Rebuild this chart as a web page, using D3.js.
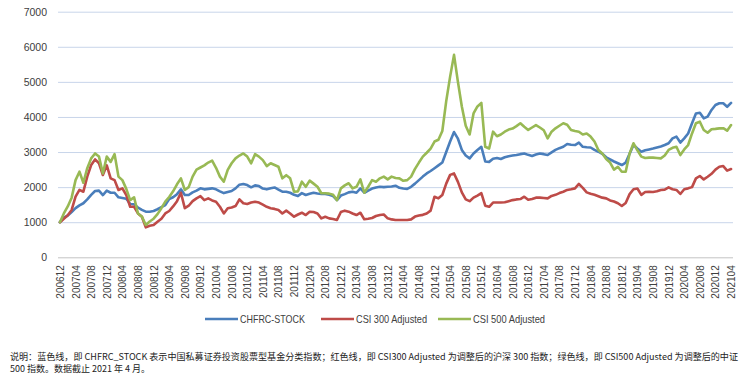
<!DOCTYPE html>
<html>
<head>
<meta charset="utf-8">
<script src="https://cdn.jsdelivr.net/npm/d3@7"></script>
<style>
  body { margin: 0; background: #fff; }
  svg { display: block; font-family: "Liberation Sans", Arial, sans-serif; }
</style>
</head>
<body>
<div id="chart"></div>
<script>
// monthly categories, 200612 .. 202104
const months = d3.timeMonth.range(new Date(2006, 11, 1), new Date(2021, 4, 1));
const fmtMonth = d3.timeFormat("%Y%m");

const seriesNames = ["CHFRC-STOCK", "CSI 300 Adjusted", "CSI 500 Adjusted"];
const yTicks = [0, 1000, 2000, 3000, 4000, 5000, 6000, 7000];

const chfrcStock = [
  1000, 1130, 1190, 1290, 1400, 1480, 1540, 1650, 1780, 1890,
  1900, 1775, 1900, 1840, 1840, 1710, 1690, 1670, 1520, 1510,
  1420, 1350, 1300, 1300, 1320, 1370, 1430, 1490, 1660, 1710,
  1800, 1937, 1775, 1775, 1850, 1900, 1965, 1937, 1950, 1965,
  1937, 1880, 1830, 1860, 1890, 1965, 2070, 2090, 2060, 1995,
  2050, 2030, 1960, 1937, 1970, 1990, 1930, 1870, 1870, 1840,
  1780, 1745, 1830, 1775, 1810, 1840, 1820, 1805, 1805, 1780,
  1745, 1630, 1760, 1800, 1850, 1870, 1840, 1965, 1840, 1900,
  1960, 1990, 2010, 2000, 2010, 2020, 2040, 1980, 1960, 1950,
  2010, 2100, 2200, 2300, 2390, 2460, 2540, 2620, 2700, 3000,
  3300, 3570, 3380, 3060, 2900, 2820, 2960, 3060, 3150, 2730,
  2720, 2810, 2830, 2800, 2850, 2880, 2900, 2915, 2940, 2960,
  2920, 2887, 2930, 2960, 2940, 2915, 2990, 3060, 3110, 3150,
  3230, 3210, 3200, 3270, 3150, 3135, 3130, 3060, 3010, 2950,
  2850, 2790, 2730, 2680, 2630, 2700, 2950, 3200, 3100, 3010,
  3050, 3075, 3100, 3130, 3160, 3200, 3250, 3390, 3440, 3270,
  3390, 3530, 3820, 4100, 4120, 3960, 4010, 4200, 4340, 4390,
  4390, 4290, 4400
];

const csi300Adj = [
  1000, 1100, 1200, 1350, 1730, 1920, 1870, 2300, 2630, 2790,
  2680, 2345, 2620, 2250, 2200, 1920, 1965, 1775, 1440, 1440,
  1250, 1157, 855, 900, 920, 1015, 1100, 1250, 1320, 1450,
  1600, 1840, 1400, 1470, 1600, 1680, 1745, 1630, 1680, 1620,
  1585, 1440, 1250, 1397, 1420, 1460, 1650, 1540, 1520, 1560,
  1585, 1560, 1500, 1440, 1400, 1380, 1350, 1250, 1330, 1250,
  1157, 1220, 1270, 1205, 1300, 1290, 1250, 1110, 1157, 1110,
  1090, 1063, 1290, 1330, 1300, 1250, 1205, 1270, 1083, 1100,
  1120, 1177, 1205, 1220, 1110, 1080, 1063, 1063, 1063, 1063,
  1080, 1160, 1190, 1210, 1250, 1330, 1727, 1680, 1775, 2100,
  2350, 2390, 2150, 1850, 1650, 1600, 1700, 1760, 1830, 1470,
  1440, 1560, 1560, 1560, 1570, 1600, 1630, 1650, 1660, 1727,
  1640, 1660, 1700, 1700, 1690, 1680, 1750, 1780, 1830, 1870,
  1920, 1940, 1965, 2090, 1980, 1850, 1810, 1780, 1740, 1700,
  1680, 1620, 1590, 1540, 1462, 1550, 1800, 1940, 1960, 1780,
  1860, 1870, 1860, 1880, 1920, 1930, 1995, 1940, 1920, 1805,
  1940, 1965, 2000, 2250, 2317, 2220, 2297, 2380, 2500, 2580,
  2600, 2470, 2515
];

const csi500Adj = [
  1000, 1250, 1450, 1700, 2200, 2440, 2125, 2540, 2820, 2960,
  2870, 2390, 2870, 2720, 2940, 2300, 2200, 1950, 1630, 1710,
  1250, 1160, 920, 1020, 1100, 1230, 1400, 1585, 1720, 1880,
  2080, 2250, 1920, 2000, 2300, 2500, 2560, 2620, 2700, 2755,
  2550, 2300, 2155, 2490, 2680, 2820, 2900, 2960, 2870, 2680,
  2940, 2870, 2770, 2600, 2680, 2630, 2580, 2250, 2340, 2250,
  1870, 1880, 2155, 2010, 2185, 2100, 2010, 1825, 1825, 1815,
  1780, 1630, 1965, 2050, 2110, 1965, 2010, 2220, 1840, 2010,
  2200, 2155, 2250, 2300, 2220, 2300, 2260, 2250, 2180, 2200,
  2300, 2520, 2700, 2870, 2980, 3100, 3300, 3350, 3600, 4450,
  5150, 5770, 5000, 4300, 3750, 3500, 4100, 4300, 4400, 3150,
  3100, 3580, 3450, 3500, 3580, 3640, 3670, 3740, 3820, 3720,
  3630, 3700, 3770, 3700, 3620, 3390, 3580, 3675, 3750, 3820,
  3780, 3630, 3600, 3580, 3500, 3530, 3440, 3300, 3060, 2960,
  2800, 2700, 2500, 2580, 2440, 2440, 2960, 3250, 3050, 2870,
  2830, 2840, 2840, 2830, 2820, 2900, 3060, 3120, 3150, 2915,
  3075, 3200, 3530, 3820, 3865, 3630, 3550, 3650, 3660, 3675,
  3680, 3610, 3770
];

const seriesColors = ["#4a7ebb", "#be4b48", "#98b954"];

let CH = window.CH || {};
(function () {
    'use strict'

    const W = 750, H = 376;
    const left = 58, right = 733, top = 11.7, bottom = 257.3;

    this.draw = function () {
        let svg = d3.select("#chart").append("svg").attr("width", W).attr("height", H);

        let x = d3.scalePoint().domain(months.map(fmtMonth)).range([left, right]).padding(0.5);
        let y = d3.scaleLinear().domain([0, 7000]).range([bottom, top]);

        // y axis + horizontal gridlines
        let yAxis = svg.append("g")
            .attr("transform", `translate(${left},0)`)
            .call(d3.axisLeft(y).tickValues(yTicks).tickFormat(d3.format("d"))
                .tickSize(-(right - left)).tickPadding(11));
        yAxis.select(".domain").remove();
        yAxis.selectAll(".tick line").attr("stroke", "#c8d5ea").attr("stroke-width", 1);
        yAxis.selectAll(".tick").filter(d => d === 0).select("line").attr("stroke", "#c3c3c3");
        yAxis.selectAll(".tick text").attr("fill", "#404040").style("font-size", "10.5px");

        // x axis, label every 4th month
        let xTickVals = months.map(fmtMonth).filter((d, i) => i % 4 === 0);
        let xAxis = svg.append("g")
            .attr("transform", `translate(0,${bottom})`)
            .call(d3.axisBottom(x).tickValues(xTickVals).tickSize(0).tickSizeOuter(0));
        xAxis.select(".domain").remove();
        xAxis.selectAll(".tick text")
            .attr("transform", "rotate(-90)")
            .attr("x", -8)
            .attr("y", 0)
            .attr("dy", "0.35em")
            .attr("text-anchor", "end")
            .attr("fill", "#404040")
            .style("font-size", "10px");

        // lines
        let line = d3.line()
            .x((d, i) => x(fmtMonth(months[i])))
            .y(d => y(d));

        [chfrcStock, csi300Adj, csi500Adj].forEach(function (vals, k) {
            svg.append("path")
                .attr("d", line(vals))
                .attr("fill", "none")
                .attr("stroke", seriesColors[k])
                .attr("stroke-width", 2.6)
                .attr("stroke-linejoin", "round")
                .attr("stroke-linecap", "round");
        });

        // legend (labels squeezed to the narrow widths of the original)
        let legendX = [205, 321, 438];
        let legendW = [65, 71, 72];
        let legend = svg.append("g").attr("transform", "translate(0,319)");
        seriesNames.forEach(function (name, k) {
            legend.append("line")
                .attr("x1", legendX[k]).attr("x2", legendX[k] + 33)
                .attr("y1", 0).attr("y2", 0)
                .attr("stroke", seriesColors[k]).attr("stroke-width", 2.6);
            legend.append("text")
                .attr("x", legendX[k] + 35).attr("y", 0).attr("dy", "0.35em")
                .attr("textLength", legendW[k]).attr("lengthAdjust", "spacingAndGlyphs")
                .attr("fill", "#404040")
                .style("font-size", "11px")
                .text(name);
        });

        // footnote
        let note = svg.append("g")
            .style("font-family", "'Noto Sans CJK SC', sans-serif")
            .style("font-size", "9px")
            .attr("fill", "#222");
        note.append("text")
            .attr("x", 10).attr("y", 360)
            .attr("textLength", 728).attr("lengthAdjust", "spacingAndGlyphs")
            .text("说明：蓝色线，即 CHFRC_STOCK 表示中国私募证券投资股票型基金分类指数；红色线，即 CSI300 Adjusted 为调整后的沪深 300 指数；绿色线，即 CSI500 Adjusted 为调整后的中证");
        note.append("text")
            .attr("x", 10).attr("y", 372)
            .text("500 指数。数据截止 2021 年 4 月。");
    }

}).call(CH);

(function () {
    'use strict'
    window.addEventListener('load', function () {
        window.CH = CH;
        CH.draw();
    }, false)
}())
</script>
</body>
</html>
